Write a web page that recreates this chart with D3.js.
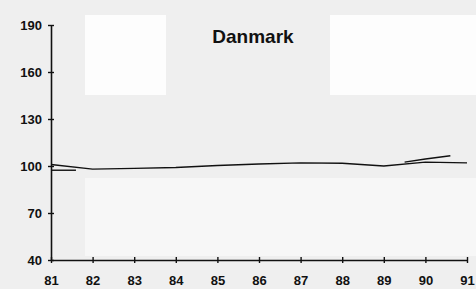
<!DOCTYPE html>
<html>
<head>
<meta charset="utf-8">
<title>Danmark</title>
<script src="https://cdn.jsdelivr.net/npm/d3@7/dist/d3.min.js"></script>
<style type="text/css">
	body { margin: 0; background: #efefef; }
	.tick text { font-family: Arial, "Liberation Sans", sans-serif; font-weight: bold; font-size: 13px; fill: #111; }
	.title { font-family: Arial, "Liberation Sans", sans-serif; font-weight: bold; font-size: 19px; fill: #111; }
	.line { fill: none; stroke: #111; stroke-width: 1.4px; stroke-linejoin: round; }
</style>
</head>
<body>
<script type="text/javascript">

var width = 476,
    height = 289;

// data
var yearTicks = [81, 82, 83, 84, 85, 86, 87, 88, 89, 90, 91];
var valueTicks = [40, 70, 100, 130, 160, 190];
var yearsA = [81, 82, 83, 84, 85, 86, 87, 88, 89, 90, 91];
var valuesA = [101, 98, 98.5, 99, 100.3, 101.3, 102, 101.8, 100, 102.5, 102];
var yearsB = [81, 81.6];
var valuesB = [97.3, 97.3];
var yearsC = [89.5, 90, 90.6];
var valuesC = [102.5, 104.5, 106.5];

var svg = d3.select("body").append("svg").attr("width", width).attr("height", height);

// pale patches from the scanned page
svg.append("rect").attr("x", 85).attr("y", 15).attr("width", 81).attr("height", 80).attr("fill", "#fdfdfd");
svg.append("rect").attr("x", 330).attr("y", 15).attr("width", 146).attr("height", 80).attr("fill", "#fdfdfd");
svg.append("rect").attr("x", 85).attr("y", 178).attr("width", 391).attr("height", 78).attr("fill", "#f7f7f7");

var x = d3.scaleLinear().domain([81, 91]).range([51, 467]);
var y = d3.scaleLinear().domain([40, 190]).range([260, 25]);

var xAxis = svg.append("g").attr("transform", "translate(0," + y(40) + ")")
	.call(d3.axisBottom(x).tickValues(yearTicks).tickFormat(d3.format("d")).tickSizeInner(3).tickSizeOuter(0).tickPadding(13));
var yAxis = svg.append("g").attr("transform", "translate(" + x(81) + ",0)")
	.call(d3.axisLeft(y).tickValues(valueTicks).tickSizeInner(3).tickSizeOuter(0).tickPadding(6));

[xAxis, yAxis].forEach(function(a) {
	a.select(".domain").attr("stroke", "#111").attr("stroke-width", 1.6);
	a.selectAll(".tick line").attr("stroke", "#111").attr("stroke-width", 1.4);
});
// ticks cross the axis on both sides
xAxis.selectAll(".tick line").attr("y1", -3);
yAxis.selectAll(".tick line").attr("x1", 3);

var line = d3.line().x(function(d) { return x(d[0]); }).y(function(d) { return y(d[1]); });

svg.append("path").datum(d3.zip(yearsA, valuesA)).attr("class", "line").attr("d", line);
svg.append("path").datum(d3.zip(yearsB, valuesB)).attr("class", "line").attr("d", line);
svg.append("path").datum(d3.zip(yearsC, valuesC)).attr("class", "line").attr("d", line);

svg.append("text").attr("class", "title").attr("x", 253).attr("y", 43)
	.attr("text-anchor", "middle").text("Danmark");

</script>
</body>
</html>
